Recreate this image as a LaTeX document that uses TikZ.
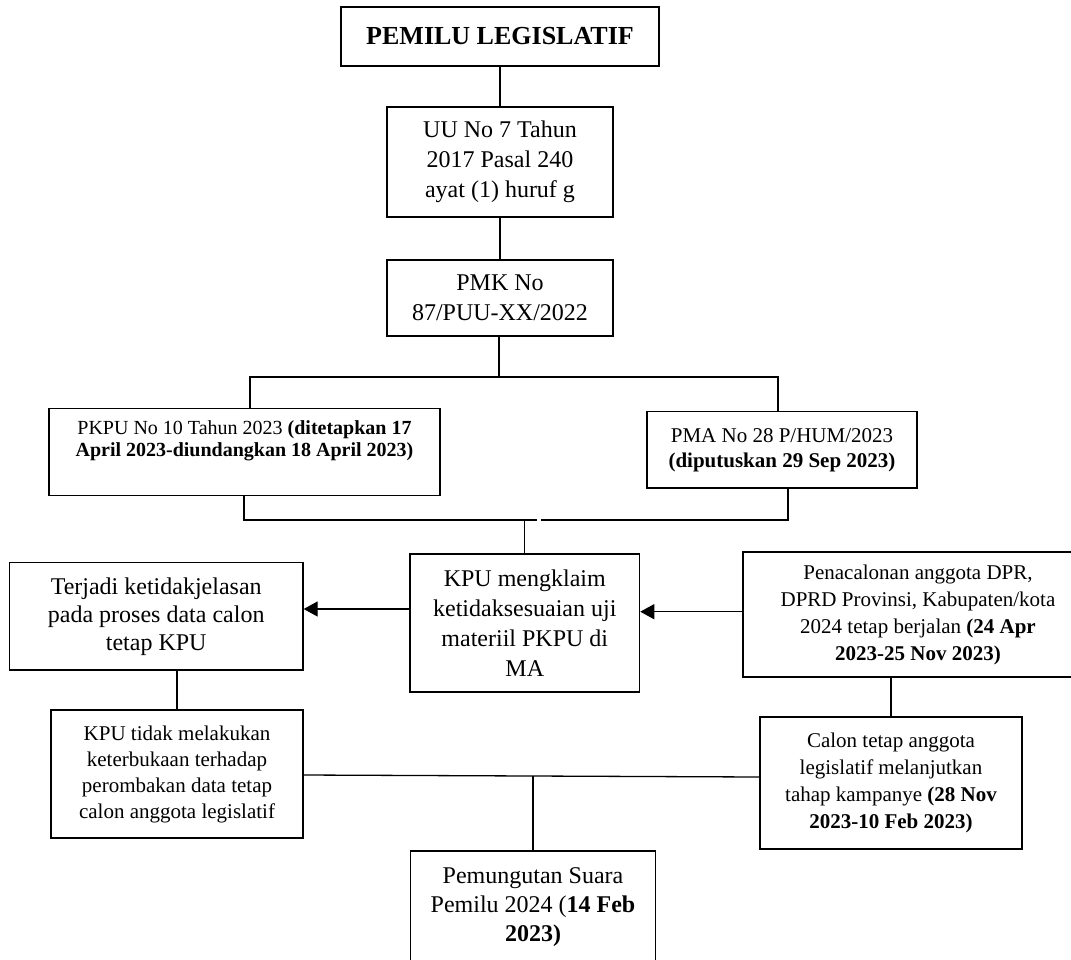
\documentclass[tikz,border=0pt]{standalone}
\usepackage{fontspec}
\setmainfont{Liberation Serif}
\usetikzlibrary{arrows.meta}
\begin{document}
\begin{tikzpicture}[x=0.5pt,y=-0.5pt,
  box/.style={draw, line width=0.65pt, inner sep=0pt, align=center, font=\fontsize{12}{15}\selectfont},
  mid/.style={box, font=\fontsize{10.5}{13.5}\selectfont},
  conn/.style={line width=0.65pt},
  arr/.style={conn, -{Triangle[length=7pt,width=7.5pt]}}]
\useasboundingbox[fill=white] (0,0) rectangle (1071,959);

\node[box, line width=1.3pt, font=\fontsize{13}{15}\selectfont\bfseries, minimum width=159pt, minimum height=29.5pt] (title) at (500,36.5) {PEMILU LEGISLATIF};
\node[box, minimum width=113pt, minimum height=55pt] (uu) at (500,162) {UU No 7 Tahun\\2017 Pasal 240\\ayat (1) huruf g};
\node[box, minimum width=113pt, minimum height=38pt] (pmk) at (500,298) {PMK No\\87/PUU-XX/2022};
\node[box, font=\fontsize{10}{11}\selectfont, minimum width=195.5pt, minimum height=43.5pt, text depth=14pt] (pkpu) at (244.5,452.2) {PKPU No 10 Tahun 2023 \textbf{(ditetapkan 17}\\\textbf{April 2023-diundangkan 18 April 2023)}};
\node[box, font=\fontsize{10.5}{12.5}\selectfont, minimum width=135pt, minimum height=38.2pt] (pma) at (782,449.8) {PMA No 28 P/HUM/2023\\\textbf{(diputuskan 29 Sep 2023)}};
\node[box, minimum width=114.8pt, minimum height=69pt] (kpu) at (524.8,623) {KPU mengklaim\\ketidaksesuaian uji\\materiil PKPU di\\MA};
\node[box, font=\fontsize{12}{14}\selectfont, minimum width=146.8pt, minimum height=53.7pt] (terjadi) at (156.2,616.3) {Terjadi ketidakjelasan\\pada proses data calon\\tetap KPU};
\node[mid, minimum width=175pt, minimum height=62.5pt] (pen) at (918,614.5) {Penacalonan anggota DPR,\\DPRD Provinsi, Kabupaten/kota\\2024 tetap berjalan \textbf{(24 Apr}\\\textbf{2023-25 Nov 2023)}};
\node[mid, font=\fontsize{10.5}{13}\selectfont, minimum width=126pt, minimum height=64pt] (tidak) at (177,774) {KPU tidak melakukan\\keterbukaan terhadap\\perombakan data tetap\\calon anggota legislatif};
\node[mid, minimum width=131pt, minimum height=66pt] (calon) at (891,783) {Calon tetap anggota\\legislatif melanjutkan\\tahap kampanye \textbf{(28 Nov}\\\textbf{2023-10 Feb 2023)}};
\node[box, font=\fontsize{12}{14.5}\selectfont, minimum width=122.6pt, minimum height=56pt] (pem) at (533,907) {Pemungutan Suara\\Pemilu 2024 (\textbf{14 Feb}\\\textbf{2023)}};

% upper tree
\draw[conn] (title) -- (uu);
\draw[conn] (uu) -- (pmk);
\coordinate (j1) at (499,377);
\coordinate (jl) at (250,377);
\coordinate (jr) at (778,377);
\draw[conn] (pmk.south -| j1) -- (j1);
\draw[conn] (jl |- pkpu.north) -- (jl) -- (jr) -- (jr |- pma.north);

% merge into KPU
\coordinate (ml) at (244,520);
\coordinate (mr) at (788,520);
\coordinate (g1) at (537,520);
\coordinate (g2) at (541,520);
\draw[conn] (ml |- pkpu.south) -- (ml) -- (g1);
\draw[conn] (g2) -- (mr) -- (mr |- pma.south);
\coordinate (mk) at (524.8,520);
\draw[conn] (mk) -- (kpu.north);

% arrows
\coordinate (ya) at (0,611.7);
\coordinate (yb) at (0,609);
\draw[arr] (pen.west |- ya) -- (kpu.east |- ya);
\draw[arr] (kpu.west |- yb) -- (terjadi.east |- yb);

% lower
\draw[conn] (terjadi.south -| tidak.north) -- (tidak.north);
\draw[conn] (pen.south -| calon.north) -- (calon.north);
\coordinate (yl) at (0,775);
\coordinate (yr) at (0,777);
\coordinate (jb) at (533,776.2);
\draw[conn] (tidak.east |- yl) -- (calon.west |- yr);
\draw[conn] (jb) -- (pem.north);
\end{tikzpicture}
\end{document}
